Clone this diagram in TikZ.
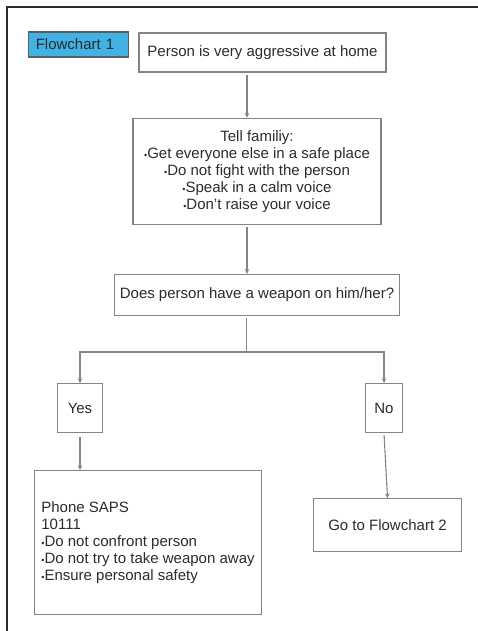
\documentclass[tikz,border=0pt]{standalone}
\usepackage{fontspec}
\setmainfont{Liberation Sans}
\usetikzlibrary{positioning}
\usetikzlibrary{arrows}
\definecolor{tagblue}{HTML}{40B2E4}
\definecolor{boxgray}{HTML}{858585}
\definecolor{txtgray}{HTML}{2B2B2B}
\newcommand{\bdot}{{\fontsize{9pt}{9pt}\selectfont\textbullet}}

\begin{document}
\begin{tikzpicture}[x=1pt,y=1pt,
   fcbox/.style={draw=boxgray,line width=1.2pt,inner sep=4pt,text=txtgray,
     font=\fontsize{15pt}{17pt}\selectfont},
   fcarr/.style={->,>=stealth,draw=boxgray,line width=1.1pt},
   fcline/.style={draw=boxgray,line width=1.1pt},
   node distance=45pt]
 \useasboundingbox (0,0) rectangle (478,-631);

 %cornice
 \draw[line width=1.5pt,txtgray] (478,-7) -- (7,-7) -- (7,-631);

 \node[fcbox, minimum width=247pt, minimum height=39pt] (fc_home) at (262.5,-52.5)
      {Person is very aggressive at home};
 \node[fcbox, fill=tagblue, draw=boxgray!70!black, minimum width=100pt, minimum height=25pt,
       text width=86pt, align=left, inner xsep=7pt,
       left=9pt of fc_home.north west, anchor=north east, yshift=1pt] (fc_tag) {Flowchart 1};

 %consigli alla famiglia
 \node[fcbox, below=of fc_home, xshift=-5.5pt, minimum width=248pt, minimum height=106pt,
       align=center] (fc_family)
      {Tell familiy:\\ \bdot Get everyone else in a safe place\\ \bdot Do not fight with the person\\
       \bdot Speak in a calm voice\\ \bdot Don't raise your voice};
 \node[fcbox, below=49pt of fc_family, minimum width=285pt, minimum height=41pt] (fc_weapon)
      {Does person have a weapon on him/her?};

 %rami si / no
 \node[fcbox, below=67pt of fc_weapon, xshift=-177pt, minimum width=45pt, minimum height=49pt] (fc_yes) {Yes};
 \node[fcbox, below=67pt of fc_weapon, xshift=127pt, minimum width=37pt, minimum height=49pt] (fc_no) {No};

 \node[fcbox, below=37pt of fc_yes, xshift=68pt, minimum width=227pt, minimum height=144pt,
       align=left] (fc_saps)
      {Phone SAPS\\ 10111\\ \bdot Do not confront person\\ \bdot Do not try to take weapon away\\
       \bdot Ensure personal safety};
 \node[fcbox, below=65pt of fc_no, xshift=3.5pt, minimum width=148pt, minimum height=53pt] (fc_next)
      {Go to Flowchart 2};

 %frecce
 \draw[fcarr, shorten <=2pt] ([xshift=-15.5pt]fc_home.south) -- ([xshift=-15.5pt]fc_home.south |- fc_family.north);
 \draw[fcarr, shorten <=2pt] ([xshift=-10pt]fc_family.south) -- ([xshift=-10pt]fc_family.south |- fc_weapon.north);
 \draw[fcline, shorten <=2pt] ([xshift=-10.5pt]fc_weapon.south) -- ++(0,-36pt) coordinate (fc_split);
 \draw[fcarr] (fc_split) -| (fc_yes.north);
 \draw[fcarr] (fc_split) -| (fc_no.north);
 \draw[fcarr, shorten <=4pt] (fc_yes.south) -- (fc_yes.south |- fc_saps.north);
 \draw[fcarr, shorten <=2pt] (fc_no.south) -- (fc_next.north);

\end{tikzpicture}
\end{document}
